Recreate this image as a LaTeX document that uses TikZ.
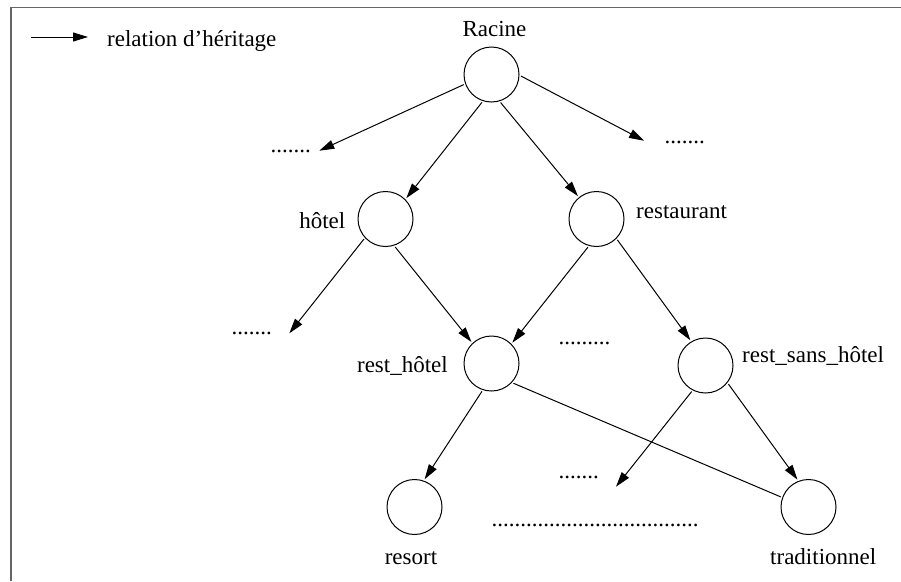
\documentclass[tikz,border=0pt]{standalone}
\usepackage{fontspec}
\setmainfont{Liberation Serif}
\usetikzlibrary{arrows.meta}
\begin{document}
\begin{tikzpicture}[x=1pt,y=-1pt,
  every node/.style={font=\fontsize{23}{27}\selectfont},
  cnode/.style={draw,circle,minimum size=55pt,inner sep=0pt,outer sep=2pt,line width=1pt},
  lbl/.style={inner sep=0pt},
  inh/.style={line width=1pt,-{Triangle[length=15pt,width=9pt]}},
  link/.style={line width=1pt},
  frame/.style={draw=black!60,line width=1.8pt}]
\useasboundingbox (0,0) rectangle (901,581);
% frame
\draw[frame] (11,581) -- (11,7.5) -- (901,7.5);
% legend
\coordinate (la) at (31,37);
\coordinate (lb) at (88,37);
\draw[inh] (la) -- (lb);
\node[lbl,anchor=base west] (legtxt) at (107,46) {relation d’héritage};
% nodes
\node[cnode] (root) at (491.5,74.5) {};
\node[cnode] (hotel) at (385.5,219) {};
\node[cnode] (rest) at (596.5,219) {};
\node[cnode] (rh) at (491.5,363.5) {};
\node[cnode] (rsh) at (705.5,365.5) {};
\node[cnode] (resort) at (414.5,507) {};
\node[cnode] (trad) at (808.5,507) {};
% labels
\node[lbl,anchor=base] (lroot) at (494.5,36.7) {Racine};
\node[lbl,anchor=base east] (lhotel) at (345.5,228) {hôtel};
\node[lbl,anchor=base west] (lrest) at (636,218) {restaurant};
\node[lbl,anchor=base east] (lrh) at (448,372.7) {rest\_hôtel};
\node[lbl,anchor=base west] (lrsh) at (742,362.7) {rest\_sans\_hôtel};
\node[lbl,anchor=base] (lresort) at (411,564.3) {resort};
\node[lbl,anchor=base west] (ltrad) at (770,564.3) {traditionnel};
% dots
\node[lbl,anchor=base west] (d1) at (270.3,152.5) {.......};
\node[lbl,anchor=base west] (d2) at (664.3,143.5) {.......};
\node[lbl,anchor=base west] (d3) at (231.3,334.5) {.......};
\node[lbl,anchor=base west] (d4) at (558.3,344.5) {.........};
\node[lbl,anchor=base west] (d5) at (558.3,478.5) {.......};
\node[lbl,anchor=base west] (d6) at (491.3,526.5) {....................................};
% free arrow ends
\coordinate (t1) at (319.3,150.7);
\coordinate (t2) at (644,140.7);
\coordinate (t3) at (289.3,333.3);
\coordinate (t5) at (616,486.7);
% connectors
\draw[inh] (root.200) -- (t1);
\draw[inh] (root.251.6) -- (hotel.45.7);
\draw[inh] (root.288.7) -- (rest.129.3);
\draw[inh] (root.357) -- (t2);
\draw[inh] (hotel.223.8) -- (t3);
\draw[inh] (hotel.289.7) -- (rh.133.5);
\draw[inh] (rest.253.3) -- (rh.45);
\draw[inh] (rest.315.7) -- (rsh.121.2);
\draw[inh] (rh.251.2) -- (resort.70.5);
\draw[link] (rh.318) -- (trad.160.1);
\draw[inh] (rsh.242.2) -- (t5);
\draw[inh] (rsh.321.5) -- (trad.112.7);
\end{tikzpicture}
\end{document}
